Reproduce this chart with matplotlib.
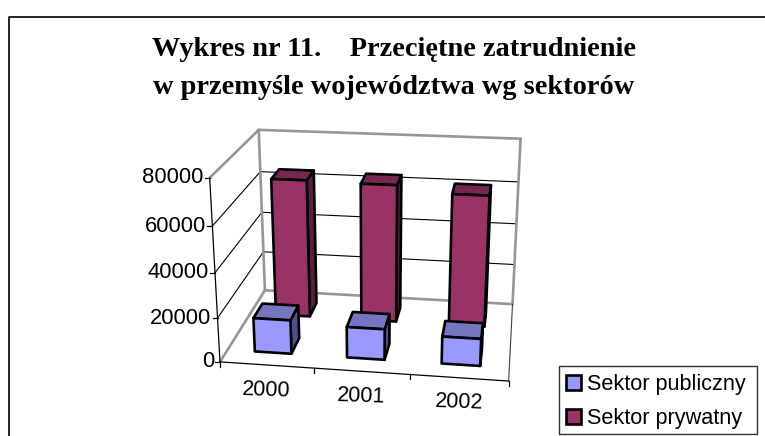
import numpy as np
import matplotlib
matplotlib.use("Agg")
import matplotlib.pyplot as plt
from matplotlib.patches import Patch, Rectangle

years = ["2000", "2001", "2002"]
sektor_publiczny = [15500, 14000, 12300]
sektor_prywatny = [65000, 64500, 61500]
z_ticks = [0, 20000, 40000, 60000, 80000]
z_max = 80000

plt.rcParams['font.family'] = ['Liberation Sans']

W, H = 765, 436
fig = plt.figure(figsize=(W / 100, H / 100), dpi=100)
ax = fig.add_axes([0, 0, 1, 1])
ax.set_xlim(0, W)
ax.set_ylim(H, 0)
ax.axis('off')

# Corners of the 3D box -> pixels, used to fit the perspective camera
box = [(0, 0, 0), (0, 0, 1), (0, 1, 0), (0, 1, 1), (3, 0, 0), (3, 1, 0), (3, 1, 1)]
pix = [(220, 361.7), (210, 177.3), (265, 290.7), (258.3, 130),
       (508.3, 381.7), (512.7, 303.3), (520.7, 139)]

rows = []
for (x, y, z), (u, v) in zip(box, pix):
    rows.append([x, y, z, 1, 0, 0, 0, 0, -u * x, -u * y, -u * z, -u])
    rows.append([0, 0, 0, 0, x, y, z, 1, -v * x, -v * y, -v * z, -v])
cam = np.linalg.svd(np.array(rows))[2][-1].reshape(3, 4)


def project(x, y, value):
    p = cam @ np.array([x, y, value / z_max, 1.0])
    return p[0] / p[2], p[1] / p[2]


def face(points, color, zorder):
    xy = [project(*p) for p in points]
    ax.fill(*zip(*xy), facecolor=color, edgecolor='black', linewidth=1.9,
            joinstyle='round', zorder=zorder)


def line3d(a, b, color, lw, zorder=1):
    xy = [project(*a), project(*b)]
    ax.plot(*zip(*xy), color=color, linewidth=lw, zorder=zorder, solid_capstyle='round')


def bar(i, y0, y1, value, front, top, side, zorder):
    x0, x1 = i + 0.3, i + 0.7
    face([(x1, y0, 0), (x1, y1, 0), (x1, y1, value), (x1, y0, value)], side, zorder)
    face([(x0, y0, value), (x1, y0, value), (x1, y1, value), (x0, y1, value)], top, zorder + 0.1)
    face([(x0, y0, 0), (x1, y0, 0), (x1, y0, value), (x0, y0, value)], front, zorder + 0.2)


# frame of the chart
ax.plot([9, 9, W], [H, 17, 17], color='black', linewidth=1.2, zorder=0)

# walls
grey = '#969696'
for z in z_ticks[1:-1]:
    line3d((0, 0, z), (0, 1, z), 'black', 0.8)
    line3d((0, 1, z), (3, 1, z), 'black', 0.8)
line3d((0, 1, 0), (0, 1, z_max), grey, 1.9)
line3d((0, 1, z_max), (3, 1, z_max), grey, 1.9)
line3d((3, 1, z_max), (3, 1, 0), grey, 1.9)
line3d((0, 1, z_max), (0, 0, z_max), grey, 1.9)
line3d((0, 1, 0), (0, 0, 0), grey, 1.9)
line3d((0, 1, 0), (3, 1, 0), grey, 1.9)
line3d((3, 1, 0), (3, 0, 0), '#404040', 0.8)

# axes
line3d((0, 0, 0), (0, 0, z_max), 'black', 0.9, 2)
line3d((0, 0, 0), (3, 0, 0), 'black', 0.9, 2)
for z in z_ticks:
    u, v = project(0, 0, z)
    ax.plot([u - 5, u], [v, v], color='black', linewidth=0.9)
    ax.text(u - 6, v, str(z), ha='right', va='center', fontsize=15.8, color='black')
for i in range(4):
    u, v = project(i, 0, 0)
    ax.plot([u, u], [v, v + 5], color='black', linewidth=0.9)
for i, label in enumerate(years):
    u, v = project(i + 0.5, 0, 0)
    ax.text(u, v + 25, label, ha='center', va='center', fontsize=15.5, rotation=-2,
            rotation_mode='anchor', color='black')

# bars, back row first
for i in range(len(years)):
    bar(i, 0.65, 0.85, sektor_prywatny[i], '#993366', '#772850', '#5C1F3D', 10)
for i in range(len(years)):
    bar(i, 0.15, 0.35, sektor_publiczny[i], '#9999FF', '#7676C0', '#50508C', 20)

# title
ax.text(394, 49, "Wykres nr 11.    Przeciętne zatrudnienie", ha='center', va='center',
        fontsize=20.4, fontweight='bold', family='Liberation Serif')
ax.text(394, 87, "w przemyśle województwa wg sektorów", ha='center', va='center',
        fontsize=20.4, fontweight='bold', family='Liberation Serif')

# legend
handles = [Patch(facecolor='#9999FF', edgecolor='black', linewidth=1.9, label='Sektor publiczny'),
           Patch(facecolor='#993366', edgecolor='black', linewidth=1.9, label='Sektor prywatny')]
ax.add_patch(Rectangle((559, 365.5), 198, 68, facecolor='white', edgecolor='#303030',
                       linewidth=1, zorder=30))
leg = ax.legend(handles=handles, loc='center left', bbox_to_anchor=(566 / W, 1 - 401.5 / H),
                frameon=False, fontsize=15.6, handlelength=0.7, handleheight=0.7,
                handletextpad=0.25, labelspacing=0.58, borderpad=0, borderaxespad=0)
leg.set_zorder(31)

fig.savefig('out.png', dpi=100)
